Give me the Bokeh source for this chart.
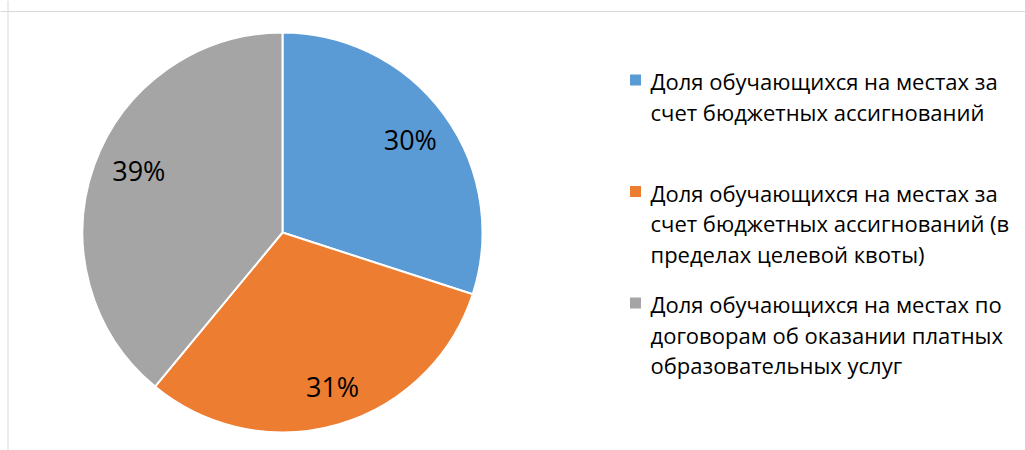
import numpy as np
from bokeh.plotting import figure
from bokeh.models import Range1d, Span, ColumnDataSource
from bokeh.core.properties import value
from bokeh.embed import file_html
from bokeh.resources import INLINE

# ---- data ----
categories = [
    "Доля обучающихся на местах за счет бюджетных ассигнований",
    "Доля обучающихся на местах за счет бюджетных ассигнований (в пределах целевой квоты)",
    "Доля обучающихся на местах по договорам об оказании платных образовательных услуг",
]
shares = [30, 31, 39]
pct_labels = ["30%", "31%", "39%"]
legend_lines = [
    ["Доля обучающихся на местах за", "счет бюджетных ассигнований"],
    ["Доля обучающихся на местах за", "счет бюджетных ассигнований (в", "пределах целевой квоты)"],
    ["Доля обучающихся на местах по", "договорам об оказании платных", "образовательных услуг"],
]
colors = ["#5B9BD5", "#ED7D31", "#A5A5A5"]

# ---- layout (1 data unit = 1 px) ----
W, H = 1025, 450
cx, cy, R = 282, 218, 200
FONT = "Open Sans"
# small per-label nudges (px) to follow the reference label placement
label_nudge_x = [0, 6, 5]
label_nudge_y = [0, -2, 8]

p = figure(width=W, height=H, x_range=Range1d(0, W), y_range=Range1d(0, H),
           x_axis_type=None, y_axis_type=None, output_backend="svg",
           toolbar_location=None, min_border=0)
p.grid.visible = False
p.outline_line_color = None
p.background_fill_color = "white"
p.border_fill_color = "white"

# chart area border (top / left)
p.add_layout(Span(location=439, dimension="width", line_color="#d9d9d9", line_width=1))
p.add_layout(Span(location=7.5, dimension="height", line_color="#d9d9d9", line_width=1))

vals = np.array(shares, dtype=float)
frac = vals / vals.sum()
cum = np.cumsum(frac)
start = np.pi / 2 - 2 * np.pi * (cum - frac)
end = np.pi / 2 - 2 * np.pi * cum
mid = (start + end) / 2

src = ColumnDataSource(dict(start=start, end=end, color=colors, cat=categories))
p.wedge(x=cx, y=cy, radius=R, start_angle="start", end_angle="end",
        direction="clock", fill_color="color", line_color="white",
        line_width=2, source=src)

lr = 0.79 * R
p.text(x=cx + lr * np.cos(mid) + np.array(label_nudge_x),
       y=cy + lr * np.sin(mid) + np.array(label_nudge_y), text=pct_labels,
       text_font=value(FONT), text_font_size="27px", text_color="#000000",
       text_align="center", text_baseline="middle")

# legend
leg_x_sq, leg_x_txt = 635, 650
first_sq = 370.5      # square centre of first entry (data y)
step = 111.5
line_h = 30.5
for i, lines in enumerate(legend_lines):
    s = first_sq - i * step
    p.rect(x=[leg_x_sq], y=[s], width=11, height=11,
           fill_color=colors[i], line_color=None)
    ys = [s - 1 - k * line_h for k in range(len(lines))]
    p.text(x=[leg_x_txt] * len(lines), y=ys, text=lines,
           text_font=value(FONT), text_font_size="22px", text_color="#000000",
           text_align="left", text_baseline="middle")

open("out.html", "w").write(file_html(p, INLINE))
